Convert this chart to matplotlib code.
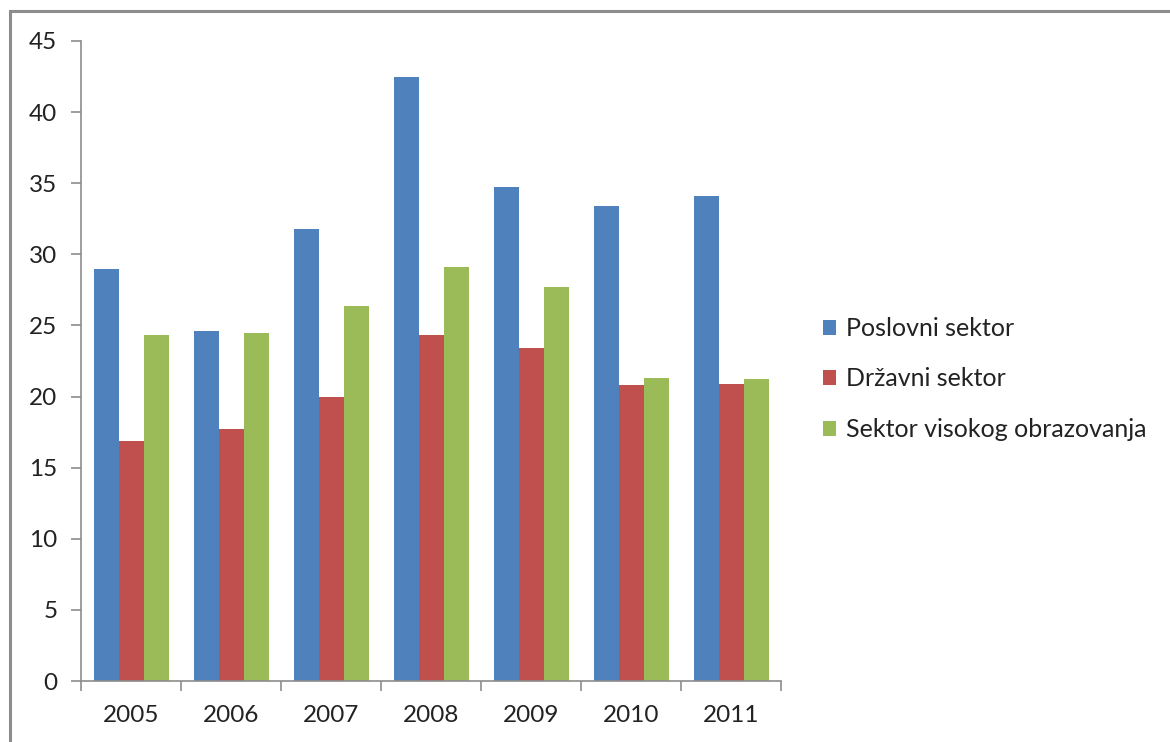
import matplotlib
matplotlib.use("Agg")
import matplotlib.pyplot as plt
from matplotlib.patches import Rectangle
import numpy as np

years = ["2005", "2006", "2007", "2008", "2009", "2010", "2011"]
poslovni = [29.0, 24.6, 31.8, 42.5, 34.7, 33.4, 34.1]
drzavni = [16.9, 17.7, 20.0, 24.3, 23.4, 20.8, 20.9]
visoko = [24.3, 24.5, 26.4, 29.1, 27.7, 21.3, 21.2]
series_names = ["Poslovni sektor", "Državni sektor", "Sektor visokog obrazovanja"]
colors = ["#4F81BD", "#C0504D", "#9BBB59"]

plt.rcParams['font.family'] = ['Lato', 'DejaVu Sans']

W, H = 1170, 742
fig = plt.figure(figsize=(W / 100, H / 100), dpi=100)
ax = fig.add_axes([81 / W, (H - 681) / H, 700 / W, 640 / H])

x = np.arange(len(years))
bw = 0.25
for i, (vals, name, c) in enumerate(zip([poslovni, drzavni, visoko], series_names, colors)):
    ax.bar(x + (i - 1) * bw, vals, width=bw, color=c, label=name, linewidth=0)

ax.set_xlim(-0.5, len(years) - 0.5)
ax.set_ylim(0, 45)
ax.set_yticks(np.arange(0, 46, 5))
ax.set_xticks(x)
ax.set_xticklabels(years)
ax.set_xticks(np.arange(-0.5, len(years), 1), minor=True)

for s in ["top", "right"]:
    ax.spines[s].set_visible(False)
for s in ["left", "bottom"]:
    ax.spines[s].set_color("#8C8C8C")
    ax.spines[s].set_linewidth(1.2)

fs = 17.5
ax.tick_params(axis="y", length=7, width=1.2, color="#8C8C8C", pad=10,
               labelsize=fs, labelcolor="#222222")
ax.tick_params(axis="x", which="major", length=0, pad=17, labelsize=fs, labelcolor="#222222")
ax.tick_params(axis="x", which="minor", length=7, width=1.2, color="#8C8C8C")

leg = ax.legend(loc="center left", bbox_to_anchor=(823 / W, (H - 379) / H),
                bbox_transform=fig.transFigure, frameon=False, fontsize=fs + 0.5,
                borderaxespad=0, borderpad=0,
                handlelength=0.53, handleheight=0.53, handletextpad=0.4,
                labelspacing=1.1, labelcolor="#222222")

fig.patches.append(Rectangle((10 / W, -0.1), 1.2, (H - 11) / H + 0.1,
                             transform=fig.transFigure, fill=False,
                             edgecolor="#8C8C8C", linewidth=2.2))

fig.savefig("out.png", dpi=100)
